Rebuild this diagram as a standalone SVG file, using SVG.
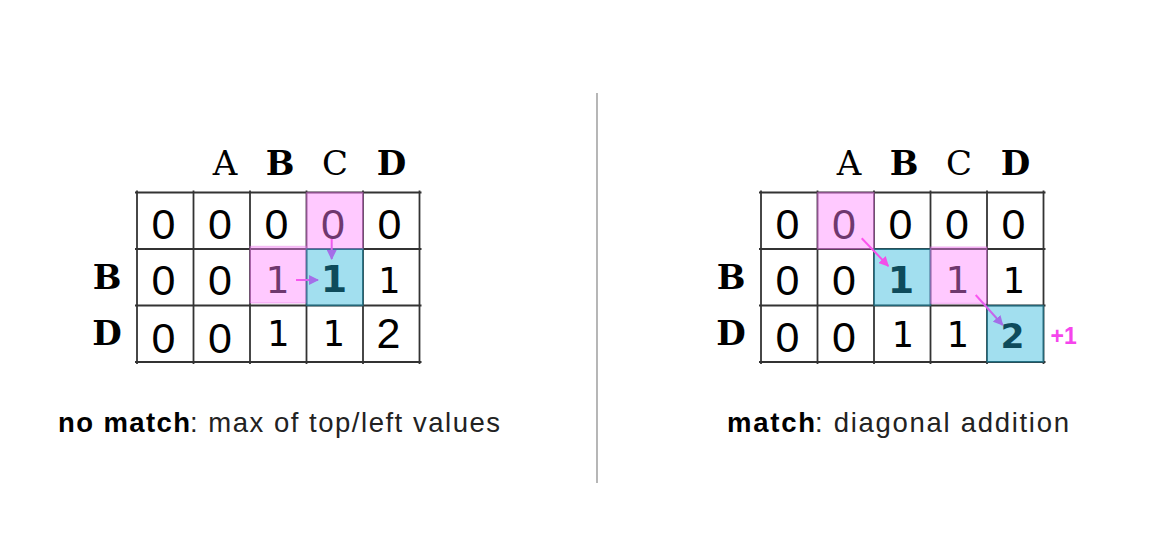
<svg xmlns="http://www.w3.org/2000/svg" width="1166" height="554" viewBox="0 0 1166 554">
<defs>
<style>
.hdr{font-family:"DejaVu Serif","Liberation Serif",serif;font-size:34px;fill:#000;text-anchor:middle}
.b{font-weight:bold}
.z{font-family:"Liberation Sans",Arial,sans-serif;font-size:43px;fill:#000;text-anchor:middle}
.o{font-family:"DejaVu Sans",Verdana,sans-serif;font-size:35px;fill:#000;text-anchor:middle}
.op{font-family:"DejaVu Sans",Verdana,sans-serif;font-size:38px;fill:#000;text-anchor:middle}
.bd{font-family:"DejaVu Sans",Verdana,sans-serif;font-weight:bold;fill:#000;text-anchor:middle}
.grid line{stroke:#333;stroke-width:1.8}
.pink{fill:#FF82FF;fill-opacity:0.43;stroke:#E070E0;stroke-opacity:0.35;stroke-width:1.5}
.blue{fill:#21B3D9;fill-opacity:0.42;stroke:#1A7F99;stroke-opacity:0.5;stroke-width:1.5}
.cap{font-family:"Liberation Sans",Arial,sans-serif;font-size:27.5px}
.capb{font-weight:bold;fill:#000}
.capr{fill:#222}
.arrow{fill:none;stroke-width:2}
</style>
<marker id="hp" markerWidth="10" markerHeight="10" refX="9" refY="5" orient="auto" markerUnits="userSpaceOnUse"><path d="M0,0 L10,5 L0,10 z" fill="#A46EE8"/></marker>
<marker id="hm" markerWidth="10" markerHeight="10" refX="9" refY="5" orient="auto" markerUnits="userSpaceOnUse"><path d="M0,0 L10,5 L0,10 z" fill="#F24FE8"/></marker>
<linearGradient id="g1" gradientUnits="userSpaceOnUse" x1="331.7" y1="239" x2="331.7" y2="259"><stop offset="0" stop-color="#FF55F0"/><stop offset="1" stop-color="#B070E8"/></linearGradient>
<linearGradient id="g2" gradientUnits="userSpaceOnUse" x1="296" y1="280" x2="318" y2="280"><stop offset="0" stop-color="#FF55F0"/><stop offset="1" stop-color="#B070E8"/></linearGradient>
<linearGradient id="g3" gradientUnits="userSpaceOnUse" x1="861.7" y1="238.3" x2="888.3" y2="266"><stop offset="0" stop-color="#FF55F0"/><stop offset="1" stop-color="#F04EE8"/></linearGradient>
<linearGradient id="g4" gradientUnits="userSpaceOnUse" x1="975.7" y1="295" x2="1002.7" y2="325"><stop offset="0" stop-color="#FF55F0"/><stop offset="1" stop-color="#A46EE8"/></linearGradient>
</defs>
<rect width="1166" height="554" fill="#fff"/>

<g id="divider"><line x1="597" y1="93" x2="597" y2="483" stroke="#aaa" stroke-width="1.7"/></g>

<!-- LEFT TABLE -->
<g id="left-headers">
<text class="hdr" x="225" y="175">A</text>
<text class="hdr b" x="280" y="175">B</text>
<text class="hdr" x="335" y="175">C</text>
<text class="hdr b" x="391.5" y="175">D</text>
<text class="hdr b" x="107" y="288.5">B</text>
<text class="hdr b" x="107" y="345">D</text>
</g>
<g id="left-grid" class="grid">
<line x1="135" y1="192.5" x2="421.5" y2="192.5"/>
<line x1="135" y1="249" x2="421.5" y2="249"/>
<line x1="135" y1="305.5" x2="421.5" y2="305.5"/>
<line x1="135" y1="362" x2="421.5" y2="362"/>
<line x1="137" y1="190.5" x2="137" y2="364"/>
<line x1="193.5" y1="190.5" x2="193.5" y2="364"/>
<line x1="250" y1="190.5" x2="250" y2="364"/>
<line x1="306.5" y1="190.5" x2="306.5" y2="364"/>
<line x1="363" y1="190.5" x2="363" y2="364"/>
<line x1="419.5" y1="190.5" x2="419.5" y2="364"/>
</g>
<g id="left-cells">
<text class="z" x="163.5" y="238.5">0</text>
<text class="z" x="220" y="238.5">0</text>
<text class="z" x="276.5" y="238.5">0</text>
<text class="z" x="333" y="238.5">0</text>
<text class="z" x="389.5" y="238.5">0</text>
<text class="z" x="163.5" y="294.5">0</text>
<text class="z" x="220" y="294.5">0</text>
<text class="op" x="277.5" y="293.3">1</text>
<text class="bd" x="334" y="292" font-size="38">1</text>
<text class="o" x="389.5" y="293.3">1</text>
<text class="z" x="163.5" y="352.5">0</text>
<text class="z" x="220" y="352.5">0</text>
<text class="o" x="278.5" y="346">1</text>
<text class="o" x="334" y="346">1</text>
<text class="z" x="388.5" y="348.3" font-size="37">2</text>
</g>
<g id="left-highlights">
<rect class="pink" x="306.5" y="192.5" width="56.5" height="56.5"/>
<rect class="pink" x="250" y="246.5" width="56.5" height="56.5"/>
<rect class="blue" x="306.5" y="249" width="56.5" height="56.5"/>
</g>

<!-- RIGHT TABLE -->
<g id="right-headers">
<text class="hdr" x="849" y="175">A</text>
<text class="hdr b" x="904" y="175">B</text>
<text class="hdr" x="959" y="175">C</text>
<text class="hdr b" x="1015.5" y="175">D</text>
<text class="hdr b" x="731" y="288.5">B</text>
<text class="hdr b" x="731" y="345">D</text>
</g>
<g id="right-grid" class="grid">
<line x1="759" y1="192.5" x2="1045.5" y2="192.5"/>
<line x1="759" y1="249" x2="1045.5" y2="249"/>
<line x1="759" y1="305.5" x2="1045.5" y2="305.5"/>
<line x1="759" y1="362" x2="1045.5" y2="362"/>
<line x1="761" y1="190.5" x2="761" y2="364"/>
<line x1="817.5" y1="190.5" x2="817.5" y2="364"/>
<line x1="874" y1="190.5" x2="874" y2="364"/>
<line x1="930.5" y1="190.5" x2="930.5" y2="364"/>
<line x1="987" y1="190.5" x2="987" y2="364"/>
<line x1="1043.5" y1="190.5" x2="1043.5" y2="364"/>
</g>
<g id="right-cells">
<text class="z" x="787.5" y="238.5">0</text>
<text class="z" x="844" y="238.5">0</text>
<text class="z" x="900.5" y="238.5">0</text>
<text class="z" x="957" y="238.5">0</text>
<text class="z" x="1013.5" y="238.5">0</text>
<text class="z" x="787.5" y="294.5">0</text>
<text class="z" x="844" y="294.5">0</text>
<text class="bd" x="901" y="293" font-size="38">1</text>
<text class="op" x="957.5" y="293.3">1</text>
<text class="o" x="1014" y="293.3">1</text>
<text class="z" x="787.5" y="352">0</text>
<text class="z" x="844" y="352">0</text>
<text class="o" x="903" y="346.5">1</text>
<text class="o" x="958" y="346.5">1</text>
<text class="bd" x="1012.5" y="348.3" font-size="34.5">2</text>
</g>
<g id="right-highlights">
<rect class="pink" x="817.5" y="192.5" width="56.5" height="56.5"/>
<rect class="blue" x="874" y="249" width="56.5" height="56.5"/>
<rect class="pink" x="930.5" y="247" width="56.5" height="56.5"/>
<rect class="blue" x="987" y="305.5" width="56.5" height="56.5"/>
</g>
<g id="plus-one"><text x="1050.5" y="343.5" font-family="Liberation Sans, Arial, sans-serif" font-weight="bold" font-size="23" fill="#F545EC">+1</text></g>

<g id="connectors">
<line class="arrow" x1="331.7" y1="239" x2="331.7" y2="259" stroke="url(#g1)" marker-end="url(#hp)"/>
<line class="arrow" x1="296" y1="280" x2="318" y2="280" stroke="url(#g2)" marker-end="url(#hp)"/>
<line class="arrow" x1="861.7" y1="238.3" x2="888.3" y2="266" stroke="url(#g3)" marker-end="url(#hm)"/>
<line class="arrow" x1="975.7" y1="295" x2="1002.7" y2="325" stroke="url(#g4)" marker-end="url(#hp)"/>
</g>

<g id="caption-left" class="cap">
<text class="capb" x="58" y="431.5" textLength="132" lengthAdjust="spacing">no match</text>
<text class="capr" x="190" y="431.5" textLength="310" lengthAdjust="spacing">: max of top/left values</text>
</g>
<g id="caption-right" class="cap">
<text class="capb" x="727" y="431.5" textLength="88" lengthAdjust="spacing">match</text>
<text class="capr" x="815" y="431.5" textLength="254" lengthAdjust="spacing">: diagonal addition</text>
</g>
</svg>
